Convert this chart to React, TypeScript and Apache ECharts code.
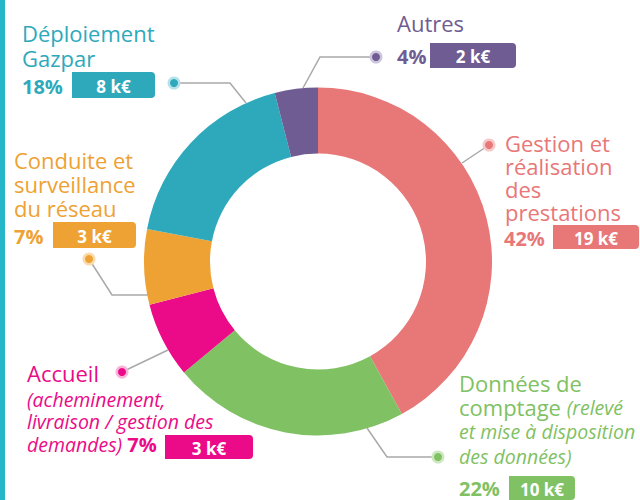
import React, { useEffect, useRef } from "react";
import * as echarts from "echarts";

const categories = [
  "Gestion et réalisation des prestations",
  "Données de comptage",
  "Accueil",
  "Conduite et surveillance du réseau",
  "Déploiement Gazpar",
  "Autres",
];
const percents = [42, 22, 7, 7, 18, 4];
const amounts = [19, 10, 3, 3, 8, 2];
const colors = ["#e87778", "#7fc163", "#eb0a87", "#eea233", "#2ea9bc", "#6f5c93"];
const halos = ["#f6c9c9", "#cde8c0", "#f8b5d8", "#f9dcae", "#b7e1e8", "#cdc5dc"];

const FONT = "'Open Sans', 'Noto Sans', sans-serif";
const BIG = 22;
const IT = 19.5;

function block(x: number, top: number, text: string, fill: string, size: number, lh: number, extra: any = {}) {
  return {
    type: "text",
    x,
    y: top,
    z: 10,
    style: {
      text,
      fill,
      fontSize: size,
      lineHeight: lh,
      fontFamily: FONT,
      verticalAlign: "top",
      align: "left",
      ...extra,
    },
  };
}

function txt(x: number, y: number, text: string, fill: string, size: number, extra: any = {}) {
  return {
    type: "text",
    x,
    y,
    z: 10,
    style: {
      text,
      fill,
      fontSize: size,
      lineHeight: Math.round(size),
      fontFamily: FONT,
      verticalAlign: "middle",
      align: "left",
      ...extra,
    },
  };
}

function badge(x: number, y: number, w: number, h: number, i: number) {
  return [
    {
      type: "rect",
      z: 9,
      shape: { x, y, width: w, height: h, r: [0, 4, 4, 0] },
      style: { fill: colors[i] },
    },
    txt(x + w / 2, y + h / 2 + 1, `${amounts[i]} k€`, "#ffffff", 17, {
      align: "center",
      fontWeight: "bold",
    }),
  ];
}

function pct(x: number, y: number, i: number) {
  return txt(x, y, `${percents[i]}%`, colors[i], 20, { fontWeight: "bold" });
}

function leader(points: number[][], i: number) {
  const d = points[0];
  return [
    {
      type: "polyline",
      z: 5,
      shape: { points },
      style: { stroke: "#a9a9a9", lineWidth: 1.5, fill: null },
    },
    { type: "circle", z: 6, shape: { cx: d[0], cy: d[1], r: 6.5 }, style: { fill: halos[i] } },
    { type: "circle", z: 7, shape: { cx: d[0], cy: d[1], r: 4 }, style: { fill: colors[i] } },
  ];
}

export default function App() {
  const ref = useRef<HTMLDivElement>(null);
  useEffect(() => {
    const chart = echarts.init(ref.current!, null, { renderer: "svg" });
    const graphic: any[] = [
      { type: "rect", shape: { x: 0, y: 0, width: 5, height: 500 }, style: { fill: "#25b6c9" } },
      // Déploiement Gazpar (4)
      block(22, 20.5, "Déploiement\nGazpar", colors[4], BIG, 25),
      pct(22, 86, 4),
      ...badge(72, 72, 83, 26, 4),
      ...leader([[174, 83], [230, 83], [246, 103]], 4),
      // Autres (5)
      txt(397, 23, "Autres", colors[5], BIG),
      pct(397, 56, 5),
      ...badge(430, 43, 86, 25, 5),
      ...leader([[376, 57], [320, 57], [303, 88]], 5),
      // Gestion (0)
      block(505, 131.5, "Gestion et\nréalisation\ndes\nprestations", colors[0], BIG, 23),
      pct(504, 238, 0),
      ...badge(553, 225, 86, 24, 0),
      ...leader([[489, 145], [462, 163]], 0),
      // Conduite (3)
      block(14, 148, "Conduite et\nsurveillance\ndu réseau", colors[3], BIG, 24),
      pct(14, 236, 3),
      ...badge(53, 222, 83, 26, 3),
      ...leader([[89, 259], [112, 295], [148, 295]], 3),
      // Accueil (2)
      txt(27, 373, "Accueil", colors[2], BIG),
      block(
        27,
        388,
        `{i|(acheminement,}\n{i|livraison / gestion des}\n{i|demandes)} {b|${percents[2]}%}`,
        colors[2],
        IT,
        22.5,
        {
          rich: {
            i: { fontSize: IT, lineHeight: 22.5, fontStyle: "italic", fill: colors[2], fontFamily: FONT },
            b: { fontSize: 20, lineHeight: 22.5, fontWeight: "bold", fill: colors[2], fontFamily: FONT },
          },
        }
      ),
      ...badge(165, 435, 88, 24, 2),
      ...leader([[122, 372], [168, 350]], 2),
      // Données (1)
      block(
        459,
        371,
        "{a|Données de}\n{a|comptage }{i|(relevé}\n{i|et mise à disposition}\n{i|des données)}",
        colors[1],
        BIG,
        24.3,
        {
          rich: {
            a: { fontSize: BIG, lineHeight: 24.3, fill: colors[1], fontFamily: FONT },
            i: { fontSize: IT, lineHeight: 24.3, fontStyle: "italic", fill: colors[1], fontFamily: FONT },
          },
        }
      ),
      pct(459, 488, 1),
      ...badge(509, 476, 66, 24, 1),
      ...leader([[438, 457], [387, 457], [367, 428]], 1),
    ];
    chart.setOption({
      animation: false,
      backgroundColor: "#ffffff",
      graphic,
      series: [
        {
          type: "pie",
          center: [318, 261.5],
          radius: [108, 174],
          startAngle: 90,
          clockwise: true,
          label: { show: false },
          labelLine: { show: false },
          emphasis: { disabled: true },
          itemStyle: { borderWidth: 0 },
          data: categories.map((name, i) => ({
            name,
            value: percents[i],
            itemStyle: { color: colors[i] },
          })),
        },
      ],
    });
    return () => chart.dispose();
  }, []);
  return (
    <div
      ref={ref}
      style={{ position: "absolute", left: 0, top: 0, width: 640, height: 500 }}
    />
  );
}
